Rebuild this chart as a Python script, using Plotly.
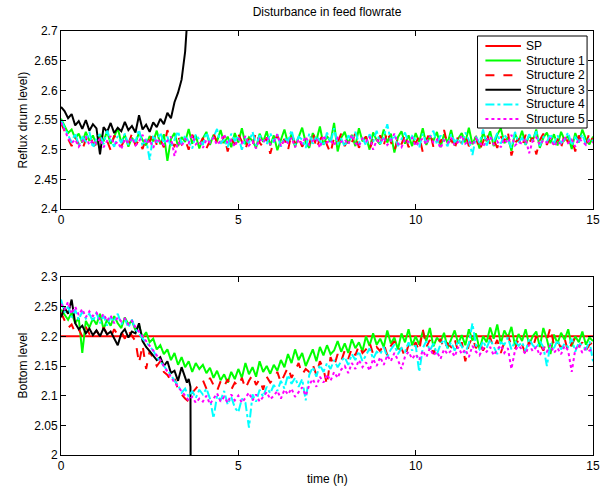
import plotly.graph_objects as go

# ---------------- data ----------------
T = [0.0, 0.1, 0.2, 0.3, 0.4, 0.5, 0.6, 0.7, 0.8, 0.9,
     1.0, 1.1, 1.2, 1.3, 1.4, 1.5, 1.6, 1.7, 1.8, 1.9,
     2.0, 2.1, 2.2, 2.3, 2.4, 2.5, 2.6, 2.7, 2.8, 2.9,
     3.0, 3.1, 3.2, 3.3, 3.4, 3.5, 3.6, 3.7, 3.8, 3.9,
     4.0, 4.1, 4.2, 4.3, 4.4, 4.5, 4.6, 4.7, 4.8, 4.9,
     5.0, 5.1, 5.2, 5.3, 5.4, 5.5, 5.6, 5.7, 5.8, 5.9,
     6.0, 6.1, 6.2, 6.3, 6.4, 6.5, 6.6, 6.7, 6.8, 6.9,
     7.0, 7.1, 7.2, 7.3, 7.4, 7.5, 7.6, 7.7, 7.8, 7.9,
     8.0, 8.1, 8.2, 8.3, 8.4, 8.5, 8.6, 8.7, 8.8, 8.9,
     9.0, 9.1, 9.2, 9.3, 9.4, 9.5, 9.6, 9.7, 9.8, 9.9,
     10.0, 10.1, 10.2, 10.3, 10.4, 10.5, 10.6, 10.7, 10.8, 10.9,
     11.0, 11.1, 11.2, 11.3, 11.4, 11.5, 11.6, 11.7, 11.8, 11.9,
     12.0, 12.1, 12.2, 12.3, 12.4, 12.5, 12.6, 12.7, 12.8, 12.9,
     13.0, 13.1, 13.2, 13.3, 13.4, 13.5, 13.6, 13.7, 13.8, 13.9,
     14.0, 14.1, 14.2, 14.3, 14.4, 14.5, 14.6, 14.7, 14.8, 14.9,
     15.0]
T3 = [0.0, 0.1, 0.2, 0.3, 0.4, 0.5, 0.6, 0.7, 0.8, 0.9,
      1.0, 1.1, 1.2, 1.3, 1.4, 1.5, 1.6, 1.7, 1.8, 1.9,
      2.0, 2.1, 2.2, 2.3, 2.4, 2.5, 2.6, 2.7, 2.8, 2.9,
      3.0, 3.1, 3.2, 3.3, 3.4, 3.5, 3.55, 3.6, 3.65, 3.66]
T_SP = [0.0, 15.0]

SP_BOT = [2.2, 2.2]

TOP_S1 = [2.552, 2.540, 2.528, 2.534, 2.519, 2.527, 2.512, 2.530, 2.515, 2.524,
          2.508, 2.526, 2.514, 2.531, 2.510, 2.522, 2.536, 2.512, 2.525, 2.505,
          2.520, 2.511, 2.529, 2.516, 2.507, 2.523, 2.514, 2.532, 2.509, 2.526,
          2.481, 2.518, 2.528, 2.506, 2.521, 2.513, 2.535, 2.510, 2.524, 2.502,
          2.519, 2.530, 2.508, 2.525, 2.514, 2.533, 2.511, 2.522, 2.504, 2.528,
          2.512, 2.536, 2.509, 2.521, 2.515, 2.503, 2.527, 2.513, 2.531, 2.507,
          2.524, 2.499, 2.518, 2.534, 2.511, 2.526, 2.505, 2.520, 2.537, 2.512,
          2.503, 2.528, 2.515, 2.539, 2.508, 2.523, 2.513, 2.545, 2.497, 2.520,
          2.530, 2.510, 2.525, 2.506, 2.536, 2.514, 2.522, 2.500, 2.529, 2.516,
          2.509, 2.534, 2.512, 2.527, 2.495, 2.521, 2.531, 2.510, 2.524, 2.506,
          2.528, 2.513, 2.536, 2.508, 2.522, 2.515, 2.530, 2.504, 2.526, 2.511,
          2.533, 2.507, 2.519, 2.528, 2.512, 2.537, 2.509, 2.523, 2.502, 2.529,
          2.514, 2.531, 2.506, 2.525, 2.536, 2.511, 2.521, 2.498, 2.527, 2.513,
          2.532, 2.508, 2.524, 2.515, 2.534, 2.503, 2.520, 2.529, 2.511, 2.526,
          2.507, 2.530, 2.516, 2.523, 2.501, 2.528, 2.512, 2.534, 2.518, 2.509,
          2.522]
TOP_S2 = [2.545, 2.530, 2.518, 2.506, 2.522, 2.509, 2.500, 2.517, 2.526, 2.511,
          2.503, 2.520, 2.508, 2.515, 2.499, 2.524, 2.512, 2.505, 2.519, 2.510,
          2.527, 2.507, 2.516, 2.501, 2.521, 2.513, 2.530, 2.508, 2.518, 2.504,
          2.533, 2.512, 2.506, 2.522, 2.509, 2.517, 2.500, 2.525, 2.514, 2.507,
          2.520, 2.502, 2.516, 2.528, 2.511, 2.505, 2.523, 2.497, 2.518, 2.509,
          2.526, 2.513, 2.501, 2.519, 2.508, 2.530, 2.512, 2.504, 2.521, 2.493,
          2.515, 2.524, 2.507, 2.518, 2.499, 2.527, 2.511, 2.520, 2.505, 2.516,
          2.509, 2.531, 2.502, 2.517, 2.525, 2.508, 2.494, 2.521, 2.513, 2.527,
          2.506, 2.519, 2.512, 2.528, 2.503, 2.515, 2.522, 2.500, 2.518, 2.510,
          2.524, 2.507, 2.531, 2.513, 2.498, 2.520, 2.509, 2.526, 2.504, 2.517,
          2.511, 2.523, 2.496, 2.516, 2.529, 2.505, 2.519, 2.512, 2.533, 2.508,
          2.518, 2.501, 2.524, 2.510, 2.527, 2.506, 2.515, 2.521, 2.499, 2.513,
          2.528, 2.509, 2.517, 2.503, 2.522, 2.514, 2.530, 2.490, 2.511, 2.519,
          2.505, 2.525, 2.512, 2.520, 2.492, 2.516, 2.527, 2.508, 2.523, 2.510,
          2.517, 2.503, 2.526, 2.511, 2.520, 2.497, 2.524, 2.513, 2.508, 2.529,
          2.514]
TOP_S3 = [2.572, 2.565, 2.553, 2.560, 2.541, 2.548, 2.535, 2.550, 2.532, 2.543,
          2.536, 2.492, 2.538, 2.530, 2.545, 2.528, 2.537, 2.531, 2.547, 2.533,
          2.540, 2.529, 2.558, 2.534, 2.542, 2.530, 2.546, 2.538, 2.552, 2.543,
          2.562, 2.553, 2.580, 2.596, 2.618, 2.665, 2.710, 2.750, 2.800, 2.810]
TOP_S4 = [2.550, 2.538, 2.524, 2.512, 2.528, 2.507, 2.521, 2.514, 2.530, 2.503,
          2.519, 2.526, 2.509, 2.532, 2.515, 2.505, 2.523, 2.511, 2.527, 2.508,
          2.520, 2.513, 2.534, 2.506, 2.518, 2.483, 2.525, 2.512, 2.529, 2.510,
          2.522, 2.505, 2.517, 2.531, 2.509, 2.524, 2.514, 2.502, 2.526, 2.516,
          2.508, 2.529, 2.513, 2.521, 2.535, 2.510, 2.518, 2.504, 2.527, 2.515,
          2.523, 2.500, 2.519, 2.511, 2.530, 2.507, 2.524, 2.516, 2.509, 2.528,
          2.512, 2.526, 2.505, 2.520, 2.514, 2.533, 2.508, 2.522, 2.517, 2.503,
          2.527, 2.510, 2.523, 2.515, 2.506, 2.529, 2.512, 2.536, 2.509, 2.519,
          2.505, 2.524, 2.516, 2.530, 2.511, 2.520, 2.507, 2.526, 2.513, 2.532,
          2.510, 2.521, 2.543, 2.514, 2.525, 2.506, 2.518, 2.529, 2.511, 2.523,
          2.516, 2.503, 2.527, 2.512, 2.520, 2.532, 2.509, 2.524, 2.515, 2.506,
          2.526, 2.513, 2.519, 2.508, 2.529, 2.516, 2.491, 2.522, 2.511, 2.534,
          2.507, 2.521, 2.514, 2.528, 2.510, 2.525, 2.517, 2.503, 2.530, 2.512,
          2.520, 2.509, 2.526, 2.515, 2.531, 2.506, 2.522, 2.513, 2.527, 2.510,
          2.524, 2.511, 2.518, 2.529, 2.507, 2.521, 2.514, 2.526, 2.509, 2.519,
          2.515]
TOP_S5 = [2.546, 2.532, 2.520, 2.511, 2.517, 2.505, 2.514, 2.522, 2.508, 2.516,
          2.510, 2.519, 2.504, 2.515, 2.523, 2.509, 2.513, 2.501, 2.518, 2.511,
          2.520, 2.507, 2.514, 2.525, 2.510, 2.516, 2.503, 2.519, 2.512, 2.508,
          2.515, 2.522, 2.489, 2.513, 2.506, 2.518, 2.511, 2.524, 2.509, 2.514,
          2.503, 2.517, 2.512, 2.520, 2.508, 2.515, 2.526, 2.510, 2.516, 2.505,
          2.519, 2.511, 2.523, 2.507, 2.514, 2.502, 2.518, 2.512, 2.521, 2.509,
          2.513, 2.526, 2.506, 2.516, 2.511, 2.520, 2.504, 2.517, 2.510, 2.522,
          2.508, 2.515, 2.519, 2.503, 2.524, 2.512, 2.516, 2.507, 2.520, 2.513,
          2.517, 2.509, 2.525, 2.511, 2.506, 2.519, 2.514, 2.522, 2.500, 2.516,
          2.512, 2.521, 2.508, 2.515, 2.527, 2.510, 2.504, 2.518, 2.513, 2.520,
          2.506, 2.514, 2.519, 2.509, 2.523, 2.512, 2.517, 2.502, 2.516, 2.511,
          2.520, 2.507, 2.513, 2.524, 2.510, 2.515, 2.508, 2.519, 2.512, 2.505,
          2.516, 2.522, 2.509, 2.514, 2.504, 2.518, 2.511, 2.525, 2.507, 2.513,
          2.510, 2.519, 2.494, 2.515, 2.521, 2.508, 2.516, 2.512, 2.520, 2.506,
          2.514, 2.509, 2.522, 2.511, 2.517, 2.505, 2.519, 2.513, 2.508, 2.516,
          2.512]

BOT_S1 = [2.245, 2.236, 2.228, 2.240, 2.222, 2.231, 2.172, 2.226, 2.215, 2.230,
          2.220, 2.238, 2.212, 2.228, 2.218, 2.234, 2.222, 2.214, 2.232, 2.220,
          2.226, 2.210, 2.218, 2.198, 2.207, 2.190, 2.196, 2.178, 2.185, 2.170,
          2.178, 2.160, 2.172, 2.152, 2.165, 2.148, 2.158, 2.140, 2.155, 2.145,
          2.152, 2.138, 2.147, 2.130, 2.142, 2.126, 2.136, 2.122, 2.140, 2.128,
          2.145, 2.130, 2.155, 2.136, 2.148, 2.132, 2.158, 2.140, 2.150, 2.137,
          2.152, 2.142, 2.160, 2.148, 2.170, 2.155, 2.178, 2.160, 2.172, 2.150,
          2.165, 2.178, 2.158, 2.182, 2.168, 2.185, 2.170, 2.176, 2.192, 2.174,
          2.188, 2.172, 2.195, 2.180, 2.190, 2.175, 2.200, 2.184, 2.205, 2.186,
          2.196, 2.182, 2.210, 2.188, 2.198, 2.178, 2.205, 2.190, 2.212, 2.185,
          2.200, 2.186, 2.208, 2.192, 2.214, 2.183, 2.198, 2.190, 2.206, 2.180,
          2.195, 2.210, 2.188, 2.202, 2.185, 2.212, 2.193, 2.205, 2.178, 2.200,
          2.190, 2.215, 2.196, 2.220, 2.188, 2.210, 2.198, 2.216, 2.185, 2.204,
          2.192, 2.212, 2.186, 2.200, 2.208, 2.182, 2.214, 2.195, 2.170, 2.203,
          2.188, 2.206, 2.194, 2.212, 2.183, 2.200, 2.190, 2.208, 2.186, 2.198,
          2.192]
BOT_S2 = [2.240, 2.226, 2.214, 2.220, 2.206, 2.212, 2.200, 2.216, 2.204, 2.198,
          2.210, 2.200, 2.215, 2.204, 2.198, 2.212, 2.202, 2.208, 2.196, 2.210,
          2.200, 2.192, 2.155, 2.185, 2.145, 2.175, 2.162, 2.150, 2.158, 2.140,
          2.135, 2.125, 2.130, 2.110, 2.102, 2.095, 2.090, 2.105, 2.112, 2.120,
          2.126, 2.112, 2.130, 2.118, 2.108, 2.124, 2.115, 2.128, 2.110, 2.122,
          2.116, 2.130, 2.112, 2.125, 2.135, 2.118, 2.128, 2.110, 2.132, 2.122,
          2.128, 2.140, 2.122, 2.135, 2.148, 2.130, 2.142, 2.155, 2.136, 2.145,
          2.140, 2.152, 2.135, 2.158, 2.145, 2.118, 2.165, 2.150, 2.170, 2.158,
          2.176, 2.162, 2.180, 2.168, 2.185, 2.172, 2.178, 2.190, 2.170, 2.182,
          2.175, 2.188, 2.168, 2.184, 2.192, 2.176, 2.180, 2.165, 2.186, 2.178,
          2.190, 2.175, 2.212, 2.182, 2.194, 2.170, 2.186, 2.196, 2.178, 2.188,
          2.182, 2.195, 2.174, 2.190, 2.158, 2.186, 2.198, 2.180, 2.192, 2.176,
          2.188, 2.198, 2.180, 2.194, 2.172, 2.190, 2.202, 2.184, 2.178, 2.196,
          2.186, 2.170, 2.192, 2.181, 2.200, 2.188, 2.176, 2.194, 2.215, 2.185,
          2.192, 2.180, 2.196, 2.174, 2.188, 2.198, 2.182, 2.190, 2.176, 2.186,
          2.190]
BOT_S3 = [2.232, 2.248, 2.238, 2.262, 2.222, 2.212, 2.218, 2.205, 2.213, 2.202,
          2.210, 2.200, 2.214, 2.203, 2.208, 2.196, 2.185, 2.205, 2.212, 2.198,
          2.208, 2.205, 2.222, 2.192, 2.182, 2.175, 2.168, 2.160, 2.165, 2.150,
          2.158, 2.138, 2.142, 2.125, 2.148, 2.130, 2.122, 2.128, 2.115, 1.900]
BOT_S4 = [2.262, 2.240, 2.250, 2.232, 2.245, 2.228, 2.242, 2.230, 2.238, 2.225,
          2.240, 2.222, 2.235, 2.218, 2.232, 2.225, 2.238, 2.220, 2.230, 2.215,
          2.228, 2.212, 2.205, 2.196, 2.190, 2.182, 2.176, 2.165, 2.158, 2.150,
          2.142, 2.135, 2.125, 2.118, 2.105, 2.112, 2.098, 2.108, 2.096, 2.110,
          2.102, 2.112, 2.095, 2.062, 2.100, 2.092, 2.108, 2.085, 2.098, 2.080,
          2.072, 2.095, 2.088, 2.046, 2.102, 2.090, 2.110, 2.098, 2.115, 2.104,
          2.118, 2.108, 2.125, 2.112, 2.135, 2.120, 2.130, 2.115, 2.128, 2.092,
          2.135, 2.148, 2.132, 2.152, 2.140, 2.155, 2.145, 2.160, 2.148, 2.158,
          2.165, 2.152, 2.170, 2.160, 2.175, 2.158, 2.168, 2.180, 2.162, 2.174,
          2.170, 2.182, 2.165, 2.178, 2.186, 2.170, 2.180, 2.174, 2.190, 2.176,
          2.185, 2.140, 2.180, 2.192, 2.176, 2.188, 2.170, 2.186, 2.195, 2.180,
          2.190, 2.176, 2.194, 2.182, 2.172, 2.188, 2.222, 2.185, 2.178, 2.192,
          2.180, 2.195, 2.183, 2.170, 2.190, 2.186, 2.198, 2.178, 2.192, 2.184,
          2.190, 2.175, 2.196, 2.185, 2.179, 2.192, 2.182, 2.150, 2.188, 2.180,
          2.194, 2.178, 2.188, 2.182, 2.196, 2.174, 2.190, 2.184, 2.178, 2.192,
          2.158]
BOT_S5 = [2.255, 2.245, 2.258, 2.238, 2.250, 2.236, 2.246, 2.232, 2.242, 2.234,
          2.240, 2.228, 2.238, 2.226, 2.235, 2.222, 2.232, 2.225, 2.230, 2.220,
          2.226, 2.215, 2.208, 2.200, 2.192, 2.185, 2.178, 2.168, 2.160, 2.150,
          2.140, 2.132, 2.122, 2.115, 2.108, 2.100, 2.092, 2.098, 2.088, 2.095,
          2.090, 2.100, 2.086, 2.095, 2.104, 2.090, 2.098, 2.088, 2.102, 2.092,
          2.100, 2.088, 2.096, 2.105, 2.092, 2.102, 2.090, 2.098, 2.106, 2.094,
          2.100, 2.108, 2.095, 2.110, 2.102, 2.112, 2.098, 2.106, 2.114, 2.100,
          2.118, 2.128, 2.115, 2.132, 2.122, 2.136, 2.125, 2.140, 2.130, 2.144,
          2.150, 2.138, 2.155, 2.145, 2.160, 2.148, 2.156, 2.142, 2.162, 2.150,
          2.165, 2.152, 2.168, 2.158, 2.172, 2.160, 2.145, 2.166, 2.174, 2.162,
          2.170, 2.160, 2.176, 2.165, 2.180, 2.168, 2.174, 2.162, 2.178, 2.170,
          2.176, 2.166, 2.182, 2.170, 2.178, 2.165, 2.184, 2.174, 2.168, 2.180,
          2.174, 2.182, 2.168, 2.178, 2.185, 2.172, 2.180, 2.145, 2.176, 2.184,
          2.178, 2.170, 2.186, 2.175, 2.182, 2.168, 2.180, 2.174, 2.186, 2.172,
          2.180, 2.170, 2.184, 2.176, 2.140, 2.178, 2.186, 2.172, 2.180, 2.176,
          2.178]

NAMES = ["SP", "Structure 1", "Structure 2", "Structure 3", "Structure 4", "Structure 5"]
TITLE = "Disturbance in feed flowrate"
YLABEL_TOP = "Reflux drum level)"
YLABEL_BOT = "Bottom level"
XLABEL = "time (h)"
X_TICKS = [0, 5, 10, 15]

for s in (TOP_S1, TOP_S2, TOP_S4, TOP_S5, BOT_S1, BOT_S2, BOT_S4, BOT_S5):
    assert len(s) == len(T), len(s)
assert len(TOP_S3) == len(T3) and len(BOT_S3) == len(T3)

# ---------------- styles ----------------
STYLES = [
    dict(color="#ff0000", dash="solid"),
    dict(color="#00ff00", dash="solid"),
    dict(color="#ff0000", dash="dash"),
    dict(color="#000000", dash="solid"),
    dict(color="#00ffff", dash="dashdot"),
    dict(color="#ff00ff", dash="dot"),
]
LW = 2
FONT = "Liberation Sans, Arial, Helvetica, sans-serif"

# plot-area geometry in page pixels
PL, PR, PT, PB = 61, 600, 31, 455
W, H = 608, 490


def px2paper_x(px):
    return (px - PL) / (PR - PL)


def px2paper_y(py):
    return (PB - py) / (PB - PT)


fig = go.Figure()
top_sets = [None, (T, TOP_S1), (T, TOP_S2), (T3, TOP_S3), (T, TOP_S4), (T, TOP_S5)]
bot_sets = [(T_SP, SP_BOT), (T, BOT_S1), (T, BOT_S2), (T3, BOT_S3), (T, BOT_S4), (T, BOT_S5)]

for i, xy in enumerate(top_sets):
    if xy is None:
        continue
    x, y = xy
    fig.add_trace(go.Scatter(x=x, y=y, mode="lines", name=NAMES[i],
                             line=dict(width=LW, **STYLES[i]),
                             xaxis="x", yaxis="y", showlegend=False))
for i, (x, y) in enumerate(bot_sets):
    fig.add_trace(go.Scatter(x=x, y=y, mode="lines", name=NAMES[i],
                             line=dict(width=LW, **STYLES[i]),
                             xaxis="x2", yaxis="y2", showlegend=False))

axis_common = dict(showline=True, linecolor="black", linewidth=1, mirror="ticks",
                   ticks="inside", ticklen=5, tickcolor="black", showgrid=False,
                   zeroline=False, tickfont=dict(family=FONT, size=12, color="black"))

top_dom = [px2paper_y(209), 1]
bot_dom = [0, px2paper_y(277)]

# legend box (drawn as shapes + text, matching the boxed MATLAB legend)
shapes = [dict(type="rect", xref="paper", yref="paper",
               x0=px2paper_x(483), x1=px2paper_x(594), y0=px2paper_y(128), y1=px2paper_y(36),
               line=dict(color="black", width=1), fillcolor="white", layer="above")]
annotations = []
for i, name in enumerate(NAMES):
    yy = px2paper_y(46 + 14.6 * i)
    shapes.append(dict(type="line", xref="paper", yref="paper",
                       x0=px2paper_x(491), x1=px2paper_x(527), y0=yy, y1=yy,
                       line=dict(width=LW, **STYLES[i]), layer="above"))
    annotations.append(dict(text=name, xref="paper", yref="paper", x=px2paper_x(530), y=yy,
                            showarrow=False, xanchor="left", yanchor="middle",
                            font=dict(family=FONT, size=12, color="black")))

annotations += [
    dict(text=YLABEL_TOP, xref="paper", yref="paper", x=px2paper_x(22), y=px2paper_y(120),
         textangle=-90, showarrow=False, xanchor="center", yanchor="middle",
         font=dict(family=FONT, size=12, color="black")),
    dict(text=YLABEL_BOT, xref="paper", yref="paper", x=px2paper_x(22), y=px2paper_y(366),
         textangle=-90, showarrow=False, xanchor="center", yanchor="middle",
         font=dict(family=FONT, size=12, color="black")),
    dict(text=XLABEL, xref="paper", yref="paper", x=0.5, y=px2paper_y(479),
         showarrow=False, xanchor="center", yanchor="middle",
         font=dict(family=FONT, size=12, color="black")),
]

fig.update_layout(
    width=W, height=H,
    margin=dict(l=PL, r=W - PR, t=PT, b=H - PB, pad=0),
    paper_bgcolor="white", plot_bgcolor="white",
    font=dict(family=FONT, size=12, color="black"),
    title=dict(text=TITLE, x=0.5, xref="paper", xanchor="center",
               y=1 - 12 / H, yref="container", yanchor="middle",
               font=dict(family=FONT, size=12, color="black")),
    xaxis=dict(domain=[0, 1], range=[0, 15], tickvals=X_TICKS, anchor="y", **axis_common),
    yaxis=dict(domain=top_dom, range=[2.4, 2.7], dtick=0.05, tick0=2.4, anchor="x", **axis_common),
    xaxis2=dict(domain=[0, 1], range=[0, 15], tickvals=X_TICKS, anchor="y2", **axis_common),
    yaxis2=dict(domain=bot_dom, range=[2.0, 2.3], dtick=0.05, tick0=2.0, anchor="x2", **axis_common),
    showlegend=False,
    hovermode=False,
    shapes=shapes,
    annotations=annotations,
)

fig.write_html("out.html", config={"displayModeBar": False, "staticPlot": True},
               post_script="document.body.style.margin='0px';document.body.style.overflow='hidden';")
